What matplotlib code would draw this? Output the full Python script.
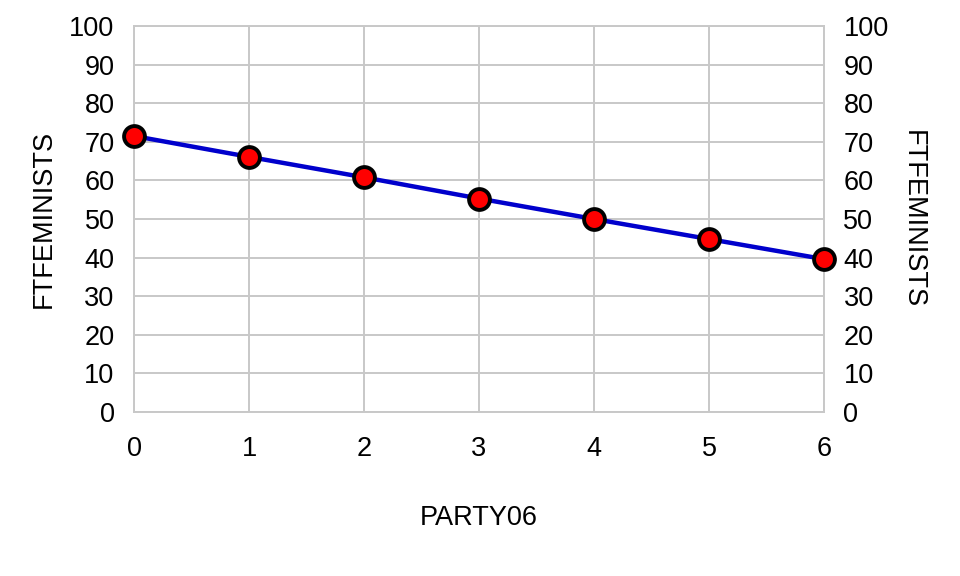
import matplotlib
matplotlib.use('Agg')
import matplotlib.pyplot as plt

# data
party06 = [0, 1, 2, 3, 4, 5, 6]
ftfeminists = [71.5, 66.1, 60.8, 55.3, 50.0, 44.8, 39.6]
y_ticks = list(range(0, 101, 10))

plt.rcParams['font.family'] = ['Liberation Sans', 'DejaVu Sans']
fs = 19.5

fig = plt.figure(figsize=(9.6, 5.76), dpi=100)
ax = fig.add_axes([134 / 960, 164 / 576, 690 / 960, 386 / 576])

grid_color = '#c8c8c8'
ax.plot(party06, ftfeminists, color='#0000cc', linewidth=3.2,
        marker='o', markersize=15, markerfacecolor='#ff0000',
        markeredgecolor='black', markeredgewidth=2.8, zorder=3, clip_on=False)

ax.set_xlim(0, 6)
ax.set_ylim(0, 100)
ax.set_xticks(party06)
ax.set_yticks(y_ticks)
ax.grid(True, color=grid_color, linewidth=1.4)
ax.set_axisbelow(True)
for side in ax.spines.values():
    side.set_color(grid_color)
    side.set_linewidth(1.4)

ax.tick_params(axis='both', length=0, labelsize=fs)
ax.tick_params(axis='x', pad=17)
ax.tick_params(axis='y', pad=14)
ax.set_xlabel('PARTY06', fontsize=fs, labelpad=31)
ax.set_ylabel('FTFEMINISTS', fontsize=fs, labelpad=9)

ax2 = ax.twinx()
ax2.set_ylim(0, 100)
ax2.set_yticks(y_ticks)
ax2.tick_params(axis='y', length=0, labelsize=fs, pad=14)
for side in ax2.spines.values():
    side.set_visible(False)
ax2.set_ylabel('FTFEMINISTS', fontsize=fs, rotation=270, labelpad=27)

fig.savefig('out.png', dpi=100)
